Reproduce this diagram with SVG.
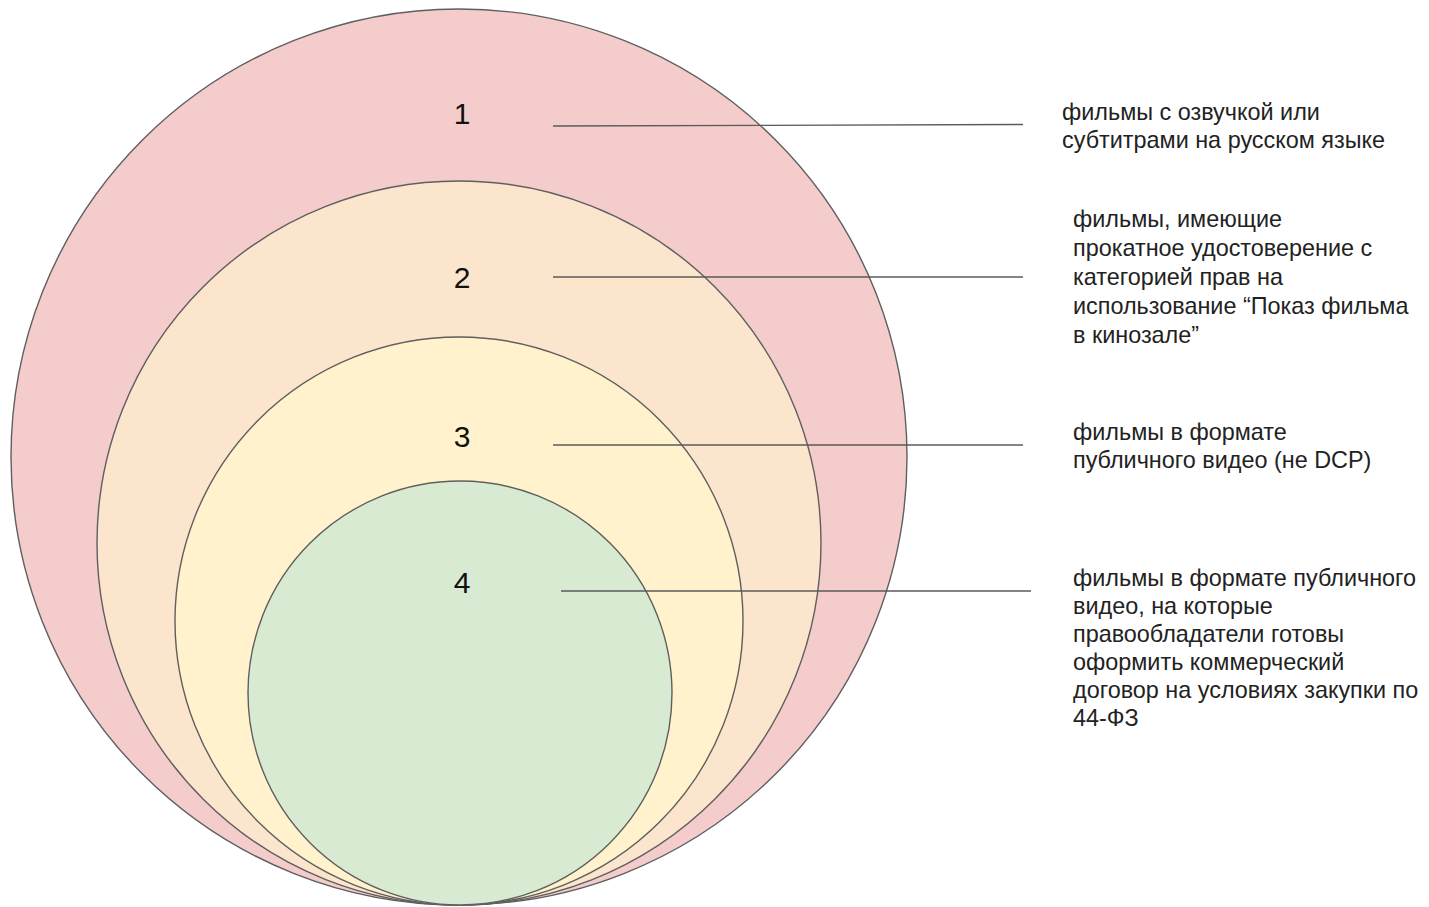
<svg xmlns="http://www.w3.org/2000/svg" width="1429" height="907" viewBox="0 0 1429 907">
<style>
.c{stroke:#5f5f5f;stroke-width:1.4}
.ln{stroke:#5a5a5a;stroke-width:1.4;fill:none}
.num{font-family:"Liberation Sans",Arial,sans-serif;font-size:30px;fill:#111;text-anchor:middle}
.lbl{font-family:"Liberation Sans",Arial,sans-serif;font-size:23.4px;fill:#222}
</style>
<rect width="1429" height="907" fill="#ffffff"/>
<g id="circle1"><circle class="c" cx="459" cy="457" r="448" fill="#f4cccc"/></g>
<g id="circle2"><circle class="c" cx="459" cy="543" r="362" fill="#fce5cd"/></g>
<g id="circle3"><circle class="c" cx="459" cy="621" r="284" fill="#fff2cc"/></g>
<g id="circle4"><circle class="c" cx="460" cy="693" r="212" fill="#d9ead3"/></g>
<g id="numbers">
<text class="num" x="462" y="124">1</text>
<text class="num" x="462" y="288">2</text>
<text class="num" x="462" y="447">3</text>
<text class="num" x="462" y="593">4</text>
</g>
<g id="connectors">
<line class="ln" x1="553" y1="126" x2="1023" y2="124.5"/>
<line class="ln" x1="553" y1="277" x2="1023" y2="277"/>
<line class="ln" x1="553" y1="445" x2="1023" y2="445"/>
<line class="ln" x1="561" y1="591" x2="1031" y2="591"/>
</g>
<g id="label1">
<text class="lbl" x="1062" y="120">фильмы с озвучкой или</text>
<text class="lbl" x="1062" y="148">субтитрами на русском языке</text>
</g>
<g id="label2">
<text class="lbl" x="1073" y="227">фильмы, имеющие</text>
<text class="lbl" x="1073" y="256">прокатное удостоверение с</text>
<text class="lbl" x="1073" y="285">категорией прав на</text>
<text class="lbl" x="1073" y="314">использование “Показ фильма</text>
<text class="lbl" x="1073" y="343">в кинозале”</text>
</g>
<g id="label3">
<text class="lbl" x="1073" y="440">фильмы в формате</text>
<text class="lbl" x="1073" y="468">публичного видео (не DCP)</text>
</g>
<g id="label4">
<text class="lbl" x="1073" y="586">фильмы в формате публичного</text>
<text class="lbl" x="1073" y="614">видео, на которые</text>
<text class="lbl" x="1073" y="642">правообладатели готовы</text>
<text class="lbl" x="1073" y="670">оформить коммерческий</text>
<text class="lbl" x="1073" y="698">договор на условиях закупки по</text>
<text class="lbl" x="1073" y="726">44-ФЗ</text>
</g>
</svg>
